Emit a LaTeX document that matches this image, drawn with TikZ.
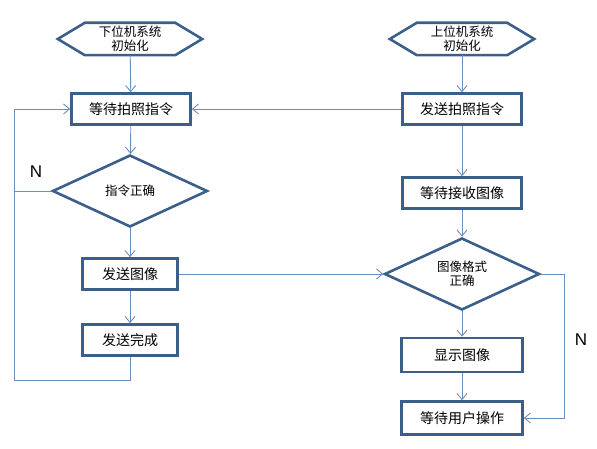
\documentclass[tikz,border=0pt]{standalone}
\usepackage{fontspec}
\setmainfont{Liberation Sans}
\newfontfamily\cjk{Noto Sans CJK SC}
\usetikzlibrary{shapes.geometric,arrows.meta}
\definecolor{bord}{HTML}{3A5F8B}
\definecolor{conn}{HTML}{6A8EC0}
\tikzset{
  procbox/.style={draw=bord, line width=2.6pt, fill=white, minimum width=119pt, minimum height=31pt, inner sep=0pt, font=\cjk\fontsize{14}{16}\selectfont},
  smallbox/.style={procbox, minimum width=95pt},
  hexnode/.style={minimum width=144pt, minimum height=32pt, inner sep=0pt, align=center, font=\cjk\fontsize{12.5}{14}\selectfont},
  hexline/.style={draw=bord, line width=2.6pt, line join=miter},
  decision/.style={diamond, draw=bord, line width=2.6pt, fill=white, aspect=2.15, minimum width=155pt, minimum height=72pt, inner sep=0pt, align=center, font=\cjk\fontsize{12.5}{14}\selectfont},
  conline/.style={draw=conn, line width=0.9pt},
  arr/.style={conline, -{Straight Barb[length=6pt,width=10pt]}},
  nlabel/.style={font=\fontsize{17}{17}\selectfont}
}
\begin{document}
\begin{tikzpicture}[x=1pt,y=-1pt]
\useasboundingbox (0,0) rectangle (597,449);
% nodes
\node[hexnode] (h1) at (130,39) {下位机系统\\初始化};
\node[hexnode] (h2) at (462,39) {上位机系统\\初始化};
\draw[hexline] (h1.west) -- ([xshift=27pt]h1.north west) -- ([xshift=-27pt]h1.north east) -- (h1.east) -- ([xshift=-27pt]h1.south east) -- ([xshift=27pt]h1.south west) -- cycle;
\draw[hexline] (h2.west) -- ([xshift=27pt]h2.north west) -- ([xshift=-27pt]h2.north east) -- (h2.east) -- ([xshift=-27pt]h2.south east) -- ([xshift=27pt]h2.south west) -- cycle;

\node[procbox] (wait) at (131,109) {等待拍照指令};
\node[procbox] (send) at (462,109) {发送拍照指令};
\node[decision] (d1) at (130,191) {指令正确};
\node[procbox] (recv) at (462,193) {等待接收图像};
\node[smallbox] (simg) at (130,274) {发送图像};
\node[decision] (d2) at (462,274) {图像格式\\正确};
\node[smallbox] (done) at (130,340) {发送完成};
\node[procbox, minimum width=121pt, minimum height=34pt] (show) at (462,355) {显示图像};
\node[procbox, minimum width=121pt, minimum height=33pt] (user) at (462,418) {等待用户操作};

\coordinate (lx) at (14,109);
\coordinate (rx) at (564,274);

% connectors
\draw[arr] (h1) -- (wait);
\draw[arr] (h2) -- (send);
\draw[arr] (send) -- (wait);
\draw[arr] (wait) -- (d1);
\draw[arr] (d1) -- (simg);
\draw[arr] (simg) -- (done);
\draw[arr] (send) -- (recv);
\draw[arr] (recv) -- (d2);
\draw[arr] (simg.east) -- (d2.west);
\draw[arr] (d2) -- (show);
\draw[arr] (show) -- (user);
\draw[conline] (d1.west) -- (d1.west -| lx);
\draw[arr] (done.south) -- (done.south |- 0,380) -- (lx |- 0,380) -- (lx) -- (wait.west);
\draw[arr] (d2.east) -- (rx) -- (rx |- user.east) -- (user.east);

\node[nlabel] (n1) at (36,172) {N};
\node[nlabel] (n2) at (581,340) {N};
\end{tikzpicture}
\end{document}
